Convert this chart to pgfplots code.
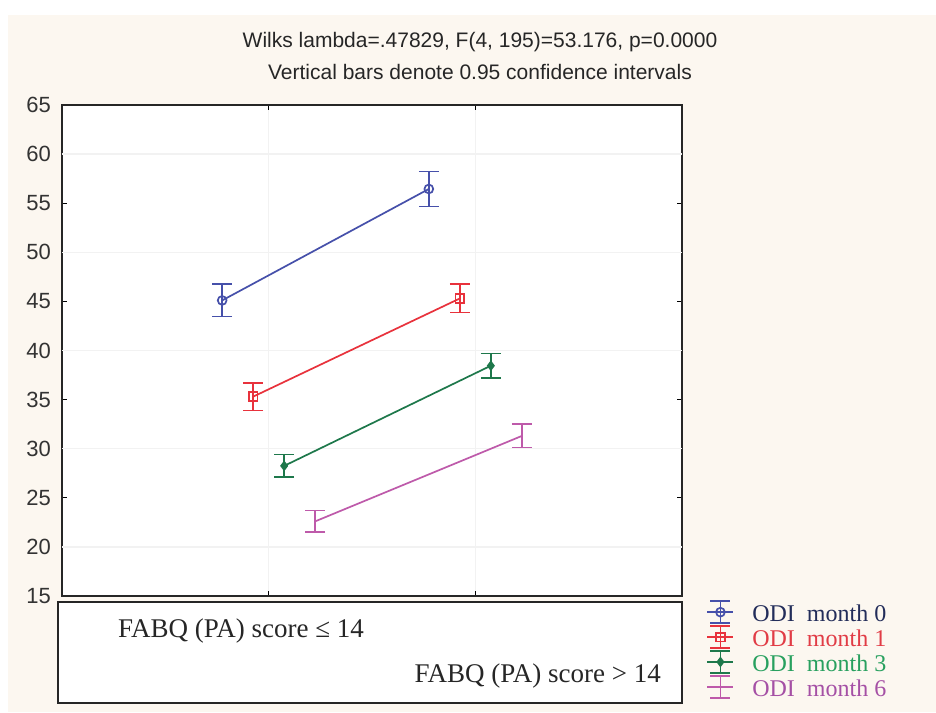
\documentclass[border=0pt]{standalone}
\usepackage{fontspec}
\setmainfont{Liberation Sans}
\newfontfamily\timesfont{Liberation Serif}
\usepackage{pgfplots}
\pgfplotsset{compat=1.18}
\definecolor{bgcream}{RGB}{252,247,240}
\definecolor{sblue}{RGB}{70,80,170}
\definecolor{sred}{RGB}{232,50,60}
\definecolor{sgreen}{RGB}{30,120,75}
\definecolor{spurple}{RGB}{190,90,170}
\definecolor{tblue}{RGB}{35,45,90}
\definecolor{tred}{RGB}{225,60,70}
\definecolor{tgreen}{RGB}{40,160,95}
\definecolor{tpurple}{RGB}{165,80,165}

\begin{document}
\begin{tikzpicture}
\useasboundingbox (-31pt,-58pt) rectangle (437pt,298pt);
\fill[bgcream] (-27pt,-58pt) rectangle (437pt,290.5pt);

% title lines
\node[font=\fontsize{10.5}{12}\selectfont, text=black!85] at (209pt,277pt) {Wilks lambda=.47829, F(4, 195)=53.176, p=0.0000};
\node[font=\fontsize{10.5}{12}\selectfont, text=black!85] at (209pt,262pt) {Vertical bars denote 0.95 confidence intervals};

\begin{axis}[
    at={(0,0)}, anchor=south west,
    scale only axis,
    width=310pt, height=245.5pt,
    xmin=0, xmax=3,
    ymin=15, ymax=65,
    ytick={15,20,...,65},
    xtick={1,2},
    xticklabels={},
    extra y ticks={20,30,40,50,60},
    extra y tick labels={},
    extra y tick style={grid=major, major tick length=0pt},
    xmajorgrids=true,
    grid style={black!5, line width=0.6pt},
    tick align=inside,
    major tick length=2.5pt,
    tick style={black, line width=0.6pt},
    axis line style={black!85, line width=0.9pt},
    axis background/.style={fill=white},
    tick label style={font=\fontsize{11}{13}\selectfont, text=black!80},
    /pgf/number format/assume math mode=true,
    yticklabel style={xshift=-2pt},
    legend style={at={(1.039,-0.008)}, anchor=north west, draw=none, fill=none,
        font=\timesfont\fontsize{12}{13}\selectfont, row sep=-1.6pt, inner sep=0pt},
    legend cell align=left,
    legend image code/.code={
        \begin{scope}[yshift=1.2pt]
        \draw[#1] (0pt,0pt) -- (13pt,0pt);
        \draw[#1] (6.5pt,-5.5pt) -- (6.5pt,5.5pt);
        \draw[#1] (1.5pt,-5.5pt) -- (11.5pt,-5.5pt);
        \draw[#1] (1.5pt,5.5pt) -- (11.5pt,5.5pt);
        \draw[#1] plot coordinates {(6.5pt,0pt)};
        \end{scope}
    },
]
\addplot[sblue, line width=0.85pt, mark=o, mark size=2.2pt,
    error bars/y dir=both, error bars/y explicit,
    error bars/error bar style={line width=0.75pt},
    error bars/error mark options={rotate=90, mark size=5pt, line width=0.75pt}]
coordinates {(0.775,45.1) +- (0,1.65) (1.775,56.45) +- (0,1.8)};
\addlegendentry{\hspace{7pt}\textcolor{tblue}{ODI\hspace{0.5em}month 0}}

\addplot[sred, line width=0.85pt, mark=square, mark size=2.2pt,
    error bars/y dir=both, error bars/y explicit,
    error bars/error bar style={line width=0.75pt},
    error bars/error mark options={rotate=90, mark size=5pt, line width=0.75pt}]
coordinates {(0.925,35.3) +- (0,1.4) (1.925,45.3) +- (0,1.45)};
\addlegendentry{\hspace{7pt}\textcolor{tred}{ODI\hspace{0.5em}month 1}}

\addplot[sgreen, line width=0.85pt, mark=diamond*, mark size=2pt,
    error bars/y dir=both, error bars/y explicit,
    error bars/error bar style={line width=0.75pt},
    error bars/error mark options={rotate=90, mark size=5pt, line width=0.75pt}]
coordinates {(1.075,28.25) +- (0,1.15) (2.075,38.45) +- (0,1.25)};
\addlegendentry{\hspace{7pt}\textcolor{tgreen}{ODI\hspace{0.5em}month 3}}

\addplot[spurple, line width=0.85pt, mark=none,
    error bars/y dir=both, error bars/y explicit,
    error bars/error bar style={line width=0.75pt},
    error bars/error mark options={rotate=90, mark size=5pt, line width=0.75pt}]
coordinates {(1.225,22.6) +- (0,1.1) (2.225,31.3) +- (0,1.2)};
\addlegendentry{\hspace{7pt}\textcolor{tpurple}{ODI\hspace{0.5em}month 6}}
\end{axis}

% category box below the axis
\draw[black!85, line width=0.9pt, fill=white] (-2pt,-3pt) rectangle (310pt,-53.5pt);
\node[anchor=west, font=\timesfont\fontsize{13.5}{16}\selectfont, text=black!85] at (24.5pt,-17.5pt) {FABQ (PA) score ≤ 14};
\node[anchor=east, font=\timesfont\fontsize{13.5}{16}\selectfont, text=black!85] at (303pt,-40pt) {FABQ (PA) score > 14};
\end{tikzpicture}
\end{document}
